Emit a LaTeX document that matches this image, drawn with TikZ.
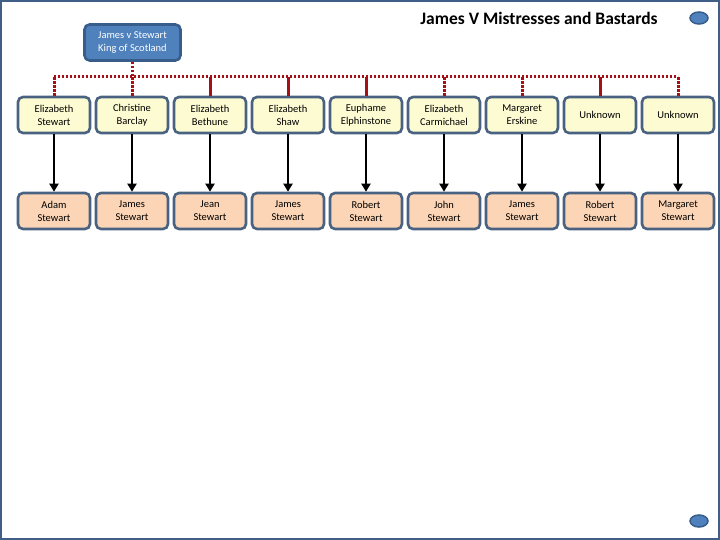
\documentclass[tikz,border=0pt]{standalone}
\usepackage{fontspec}
\setmainfont{Carlito}
\usepackage{tikz}
\usetikzlibrary{positioning, arrows.meta}
\definecolor{boxline}{HTML}{4A6282}
\definecolor{kingfill}{HTML}{4F81BD}
\definecolor{kingline}{HTML}{385D8A}
\definecolor{mistfill}{HTML}{FDFBD2}
\definecolor{childfill}{HTML}{FBD5B5}
\definecolor{busred}{HTML}{A50F15}
\definecolor{frameline}{HTML}{3F5F86}

\begin{document}
\begin{tikzpicture}[x=1pt,y=1pt,font=\fontsize{10.5}{13}\selectfont,
  bx/.style={draw=boxline, line width=2.6pt, rounded corners=5pt, minimum width=72pt,
    minimum height=36pt, inner sep=2pt, align=center},
  dotbus/.style={busred, line width=3pt, dash pattern=on 2.4pt off 1.6pt},
  solidbus/.style={busred, line width=3pt}]
\useasboundingbox (0,0) rectangle (720,-540);
\draw[frameline, line width=2.5pt] (1,-1) rectangle (719,-539);

\node[font=\fontsize{17.5}{20}\selectfont\bfseries](title) at (539,-18){James V Mistresses and Bastards};
\filldraw[fill=kingfill, draw=kingline, line width=1.5pt] (699,-18) ellipse (9 and 6);
\filldraw[fill=kingfill, draw=kingline, line width=1.5pt] (699,-521) ellipse (9 and 6);

\node[bx,fill=kingfill,draw=kingline,text=white,minimum width=96pt,minimum height=36pt](king) at (132.5,-42.5){James v Stewart\\King of Scotland};

\node[bx,fill=mistfill](m1) at (54,-115){Elizabeth\\Stewart};
\node[bx,fill=mistfill,right=3.4pt of m1](m2){Christine\\Barclay};
\node[bx,fill=mistfill,right=3.4pt of m2](m3){Elizabeth\\Bethune};
\node[bx,fill=mistfill,right=3.4pt of m3](m4){Elizabeth\\Shaw};
\node[bx,fill=mistfill,right=3.4pt of m4](m5){Euphame\\Elphinstone};
\node[bx,fill=mistfill,right=3.4pt of m5](m6){Elizabeth\\Carmichael};
\node[bx,fill=mistfill,right=3.4pt of m6](m7){Margaret\\Erskine};
\node[bx,fill=mistfill,right=3.4pt of m7](m8){Unknown};
\node[bx,fill=mistfill,right=3.4pt of m8](m9){Unknown};

\node[bx,fill=childfill,below=57.4pt of m1](c1){Adam\\Stewart};
\node[bx,fill=childfill,below=57.4pt of m2](c2){James\\Stewart};
\node[bx,fill=childfill,below=57.4pt of m3](c3){Jean\\Stewart};
\node[bx,fill=childfill,below=57.4pt of m4](c4){James\\Stewart};
\node[bx,fill=childfill,below=57.4pt of m5](c5){Robert\\Stewart};
\node[bx,fill=childfill,below=57.4pt of m6](c6){John\\Stewart};
\node[bx,fill=childfill,below=57.4pt of m7](c7){James\\Stewart};
\node[bx,fill=childfill,below=57.4pt of m8](c8){Robert\\Stewart};
\node[bx,fill=childfill,below=57.4pt of m9](c9){Margaret\\Stewart};

% bus from the king to the mistresses
\coordinate (bus) at (0,-77);
\draw[dotbus](king.south)--(king.south |- bus);
\draw[dotbus](m1.north |- bus)--(m9.north |- bus);
\foreach \m in {m1,m2,m6,m7,m9}{
  \draw[dotbus](\m.north)--(\m.north |- bus);}
\foreach \m in {m3,m4,m5,m8}{
  \draw[solidbus](\m.north)--(\m.north |- bus);}

\foreach \i in {1,...,9}{
  \draw[-{Triangle[length=8pt,width=9pt]},line width=2pt](m\i)--(c\i);}

\end{tikzpicture}
\end{document}
